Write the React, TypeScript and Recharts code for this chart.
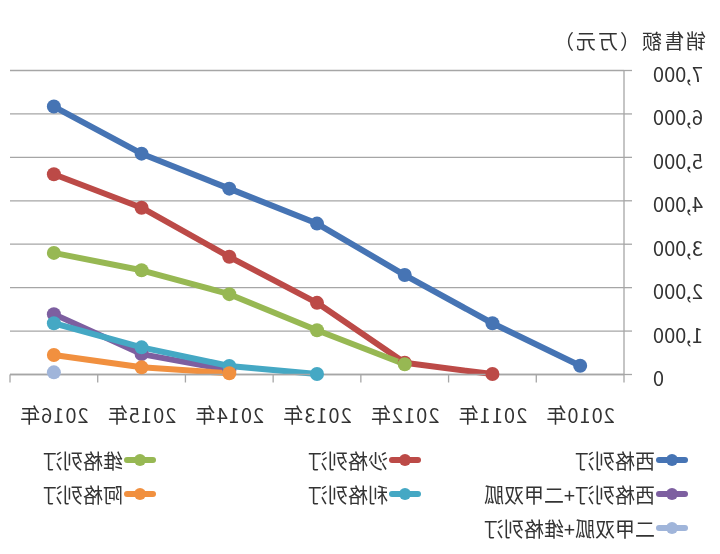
import React from "react"
import {
  CartesianGrid,
  Legend,
  Line,
  LineChart,
  XAxis,
  YAxis,
} from "recharts"

// 年份（类目）
const years = ["2010年", "2011年", "2012年", "2013年", "2014年", "2015年", "2016年"]

// 各品种销售额（万元），null = 无数据
const xiGe = [200, 1180, 2290, 3475, 4280, 5085, 6170]
const shaGe = [null, 10, 270, 1650, 2710, 3840, 4610]
const weiGe = [null, null, 235, 1020, 1850, 2400, 2800]
const xiGeMet = [null, null, null, null, 100, 470, 1390]
const liGe = [null, null, null, 10, 195, 625, 1180]
const aGe = [null, null, null, null, 30, 165, 450]
const metWei = [null, null, null, null, null, null, 50]

const yTicks = [0, 1000, 2000, 3000, 4000, 5000, 6000, 7000]

const series = [
  { key: "s0", name: "西格列汀", color: "#4674B4", values: xiGe },
  { key: "s1", name: "沙格列汀", color: "#BC4A47", values: shaGe },
  { key: "s2", name: "维格列汀", color: "#97B853", values: weiGe },
  { key: "s3", name: "西格列汀+二甲双胍", color: "#7D5FA0", values: xiGeMet },
  { key: "s4", name: "利格列汀", color: "#45A8C4", values: liGe },
  { key: "s5", name: "阿格列汀", color: "#F1903F", values: aGe },
  { key: "s6", name: "二甲双胍+维格列汀", color: "#A0B5DA", values: metWei },
]

const rows = years.map((year, i) => {
  const row: Record<string, number | string | null> = { idx: i, year }
  series.forEach((s) => {
    row[s.key] = s.values[i]
  })
  return row
})

// 类目中心放标签，类目边界放刻度线
const xTicks = years.flatMap((_, i) => [i - 0.5, i]).concat(years.length - 0.5)

const GRID = "#A6A6A6"
const TEXT = "#333"

function XTick(props: any) {
  const { x, y, payload } = props
  const v = payload.value
  if (Number.isInteger(v)) {
    return (
      <text
        x={x}
        y={y + 40}
        textAnchor="middle"
        dominantBaseline="central"
        fontSize={20}
        letterSpacing={1}
        fill={TEXT}
      >
        {years[v]}
      </text>
    )
  }
  return <line x1={x} x2={x} y1={y} y2={y + 8} stroke={GRID} strokeWidth={1.3} />
}

function YTick(props: any) {
  const { x, y, payload } = props
  return (
    <text x={x} y={y + 3} textAnchor="end" dominantBaseline="central" fontSize={20} fill={TEXT}>
      {payload.value.toLocaleString("en-US")}
    </text>
  )
}

function LegendBox() {
  return (
    <div
      style={{
        display: "grid",
        gridTemplateColumns: "267px 265px 180px",
        gridAutoRows: "34px",
      }}
    >
      {series.map((s) => (
        <div key={s.key} style={{ display: "flex", alignItems: "center" }}>
          <svg width={32} height={14} style={{ flex: "none" }}>
            <line
              x1={3}
              x2={29}
              y1={7}
              y2={7}
              stroke={s.color}
              strokeWidth={6}
              strokeLinecap="round"
            />
            <circle cx={16} cy={7} r={6} fill={s.color} />
          </svg>
          <span style={{ marginLeft: 1, fontSize: 20, color: TEXT, whiteSpace: "nowrap" }}>
            {s.name}
          </span>
        </div>
      ))}
    </div>
  )
}

export default function App() {
  return (
    <div
      style={{
        position: "absolute",
        left: 0,
        top: 0,
        width: 720,
        height: 554,
        background: "#fff",
        transform: "scaleX(-1)",
        fontFamily: '"Noto Sans CJK SC", "Noto Sans", sans-serif',
      }}
    >
      <div
        style={{
          position: "absolute",
          left: 14,
          top: 29,
          fontSize: 20,
          lineHeight: "24px",
          letterSpacing: 2,
          color: TEXT,
        }}
      >
        销售额（万元）
      </div>
      <LineChart
        width={720}
        height={554}
        data={rows}
        margin={{ top: 70.5, right: 10, left: 0, bottom: 119.5 }}
      >
        <CartesianGrid vertical={false} stroke={GRID} strokeWidth={1.3} />
        <XAxis
          dataKey="idx"
          type="number"
          domain={[-0.5, years.length - 0.5]}
          ticks={xTicks}
          interval={0}
          tickLine={false}
          tickSize={0}
          tickMargin={0}
          axisLine={{ stroke: GRID, strokeWidth: 1.3 }}
          tick={<XTick />}
          height={60}
        />
        <YAxis
          domain={[0, 7000]}
          ticks={yTicks}
          interval={0}
          width={96}
          tickSize={8}
          tickMargin={21}
          tickLine={{ stroke: GRID, strokeWidth: 1.3 }}
          axisLine={{ stroke: GRID, strokeWidth: 1.3 }}
          tick={<YTick />}
        />
        <Legend
          layout="horizontal"
          verticalAlign="middle"
          align="center"
          wrapperStyle={{ left: 32, top: 443, width: 690 }}
          content={<LegendBox />}
        />
        {series.map((s) => (
          <Line
            key={s.key}
            type="linear"
            dataKey={s.key}
            name={s.name}
            stroke={s.color}
            strokeWidth={6}
            strokeLinejoin="round"
            dot={{ r: 7, fill: s.color, stroke: s.color, strokeWidth: 0 }}
            activeDot={false}
            isAnimationActive={false}
          />
        ))}
      </LineChart>
    </div>
  )
}
